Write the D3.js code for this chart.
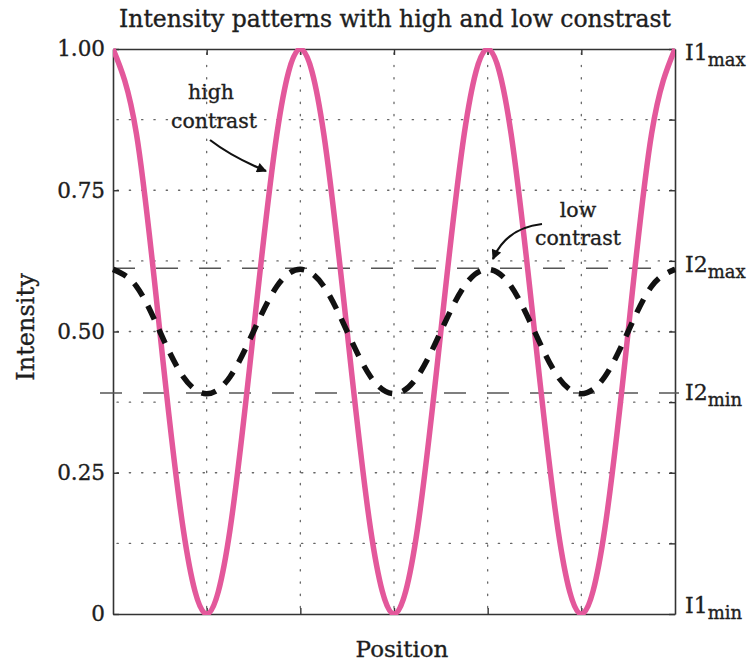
<!DOCTYPE html>
<html>
<head>
<meta charset="utf-8">
<script src="https://cdn.jsdelivr.net/npm/d3@7"></script>
<style>
  html, body { margin: 0; padding: 0; background: #fff; }
  svg { display: block; }
  text { font-family: "DejaVu Serif", "Liberation Serif", serif; fill: #1e1e1e; stroke: #1e1e1e; stroke-width: 0.35px; }
</style>
</head>
<body>
<svg id="chart" width="753" height="662"></svg>
<script>
// ---- data ----
const positions = [0,0.25,0.5,0.75,1,1.25,1.5,1.75,2,2.25,2.5,2.75,3,3.25,3.5,3.75,4,4.25,4.5,4.75,5,5.25,5.5,5.75,6];
const highContrast = [1.00,0.85,0.50,0.15,0.00,0.15,0.50,0.85,1.00,0.85,0.50,0.15,0.00,0.15,0.50,0.85,1.00,0.85,0.50,0.15,0.00,0.15,0.50,0.85,1.00];
const lowContrast  = [0.61,0.58,0.50,0.42,0.39,0.42,0.50,0.58,0.61,0.58,0.50,0.42,0.39,0.42,0.50,0.58,0.61,0.58,0.50,0.42,0.39,0.42,0.50,0.58,0.61];
const I2max = 0.612;
const I2min = 0.391;
const yTickValues = [0,0.25,0.5,0.75,1.0];
const yTickLabels = ["0","0.25","0.50","0.75","1.00"];
const yGridValues = [0.125,0.25,0.375,0.5,0.625,0.75,0.875];
const xGridValues = [1,2,3,4,5];
const titleText = "Intensity patterns with high and low constrast";
const xLabel = "Position";
const yLabel = "Intensity";

// ---- layout ----
const L = 113, R = 675, T = 49, B = 614;
const svg = d3.select("#chart");
const x = d3.scaleLinear().domain([0, 6]).range([L, R]);
const y = d3.scaleLinear().domain([0, 1]).range([B, T]);

svg.append("defs").append("clipPath").attr("id", "clip")
  .append("rect").attr("x", L).attr("y", T - 1).attr("width", R - L).attr("height", B - T + 2);

// grid
const grid = svg.append("g").attr("stroke", "#666").attr("stroke-width", 1.3)
  .attr("stroke-dasharray", "1.3,11").attr("stroke-linecap", "round");
grid.selectAll(".gx").data(xGridValues).join("line")
  .attr("x1", d => x(d)).attr("x2", d => x(d)).attr("y1", T + 4).attr("y2", B - 2);
grid.selectAll(".gy").data(yGridValues).join("line")
  .attr("y1", d => y(d)).attr("y2", d => y(d)).attr("x1", L + 4).attr("x2", R - 2);

// axes (box with inward ticks)
const axL = d3.axisLeft(y).tickValues(yTickValues).tickSizeInner(-6).tickSizeOuter(0)
  .tickPadding(8).tickFormat((d, i) => yTickLabels[i]);
const gL = svg.append("g").attr("transform", `translate(${L},0)`).call(axL);
gL.selectAll("text").style("font-size", "21.5px").attr("fill", "#1e1e1e");

const axR = d3.axisRight(y).tickValues([0,0.125,0.25,0.375,0.5,0.625,0.75,0.875,1]).tickSizeInner(-6).tickSizeOuter(0).tickFormat("");
svg.append("g").attr("transform", `translate(${R},0)`).call(axR);

const axB = d3.axisBottom(x).tickValues(xGridValues).tickSizeInner(-6).tickSizeOuter(0).tickFormat("");
svg.append("g").attr("transform", `translate(0,${B})`).call(axB);
const axT = d3.axisTop(x).tickValues(xGridValues).tickSizeInner(-6).tickSizeOuter(0).tickFormat("");
svg.append("g").attr("transform", `translate(0,${T})`).call(axT);

svg.selectAll(".domain").attr("stroke", "#333").attr("stroke-width", 1.6);
svg.selectAll(".tick line").attr("stroke", "#333").attr("stroke-width", 1.4);

// I2 reference dashed lines
svg.append("line").attr("x1", L).attr("x2", R).attr("y1", y(I2max)).attr("y2", y(I2max))
  .attr("stroke", "#555").attr("stroke-width", 1.5).attr("stroke-dasharray", "22,21");
svg.append("line").attr("x1", L - 13).attr("x2", R + 4).attr("y1", y(I2min)).attr("y2", y(I2min))
  .attr("stroke", "#555").attr("stroke-width", 1.5).attr("stroke-dasharray", "22,21");

// curves
const line = d3.line().x(d => x(d[0])).y(d => y(d[1])).curve(d3.curveNatural);
const plot = svg.append("g").attr("clip-path", "url(#clip)");
plot.append("path").datum(positions.map((p, i) => [p, highContrast[i]]))
  .attr("d", line).attr("fill", "none").attr("stroke", "#e3589b").attr("stroke-width", 5.5);
svg.append("path").datum(positions.map((p, i) => [p, lowContrast[i]]))
  .attr("d", line).attr("fill", "none").attr("stroke", "#111").attr("stroke-width", 5.5)
  .attr("stroke-dasharray", "15,11");

// title & labels
svg.append("text").attr("x", (L + R) / 2 + 1).attr("y", 27).attr("text-anchor", "middle")
  .style("font-size", "23.5px").text(titleText);
svg.append("text").attr("x", 402).attr("y", 657).attr("text-anchor", "middle")
  .style("font-size", "23px").text(xLabel);
svg.append("text").attr("transform", "translate(34,327) rotate(-90)").attr("text-anchor", "middle")
  .style("font-size", "24px").text(yLabel);

// right-side labels (value, index, subscript, baseline offset)
const rightLabels = [[1, "1", "max", 11], [I2max, "2", "max", 4], [I2min, "2", "min", 7], [0, "1", "min", -1]];
rightLabels.forEach(([v, n, s, dy]) => {
  const t = svg.append("text").attr("x", R + 10).attr("y", y(v) + dy).style("font-size", "22px");
  t.append("tspan").text("I" + n);
  t.append("tspan").attr("dy", 6).style("font-size", "18px").text(s);
});

// annotations
const ann = svg.append("g").style("font-size", "20.5px").attr("text-anchor", "middle");
ann.append("text").attr("x", 211).attr("y", 99).text("high");
ann.append("text").attr("x", 214).attr("y", 128).text("contrast");
ann.append("text").attr("x", 578).attr("y", 217).text("low");
ann.append("text").attr("x", 578).attr("y", 245).text("contrast");

const defs = svg.select("defs");
defs.append("marker").attr("id", "arrow").attr("viewBox", "0 0 10 10").attr("refX", 9).attr("refY", 5)
  .attr("markerWidth", 12).attr("markerHeight", 10).attr("markerUnits", "userSpaceOnUse").attr("orient", "auto")
  .append("path").attr("d", "M0,0 L10,5 L0,10 Z").attr("fill", "#111");
svg.append("path").attr("d", "M210,140 Q232,157 266,171").attr("fill", "none")
  .attr("stroke", "#111").attr("stroke-width", 2.2).attr("marker-end", "url(#arrow)");
svg.append("path").attr("d", "M542,224 Q506,228 493,259").attr("fill", "none")
  .attr("stroke", "#111").attr("stroke-width", 2.2).attr("marker-end", "url(#arrow)");
</script>
</body>
</html>
